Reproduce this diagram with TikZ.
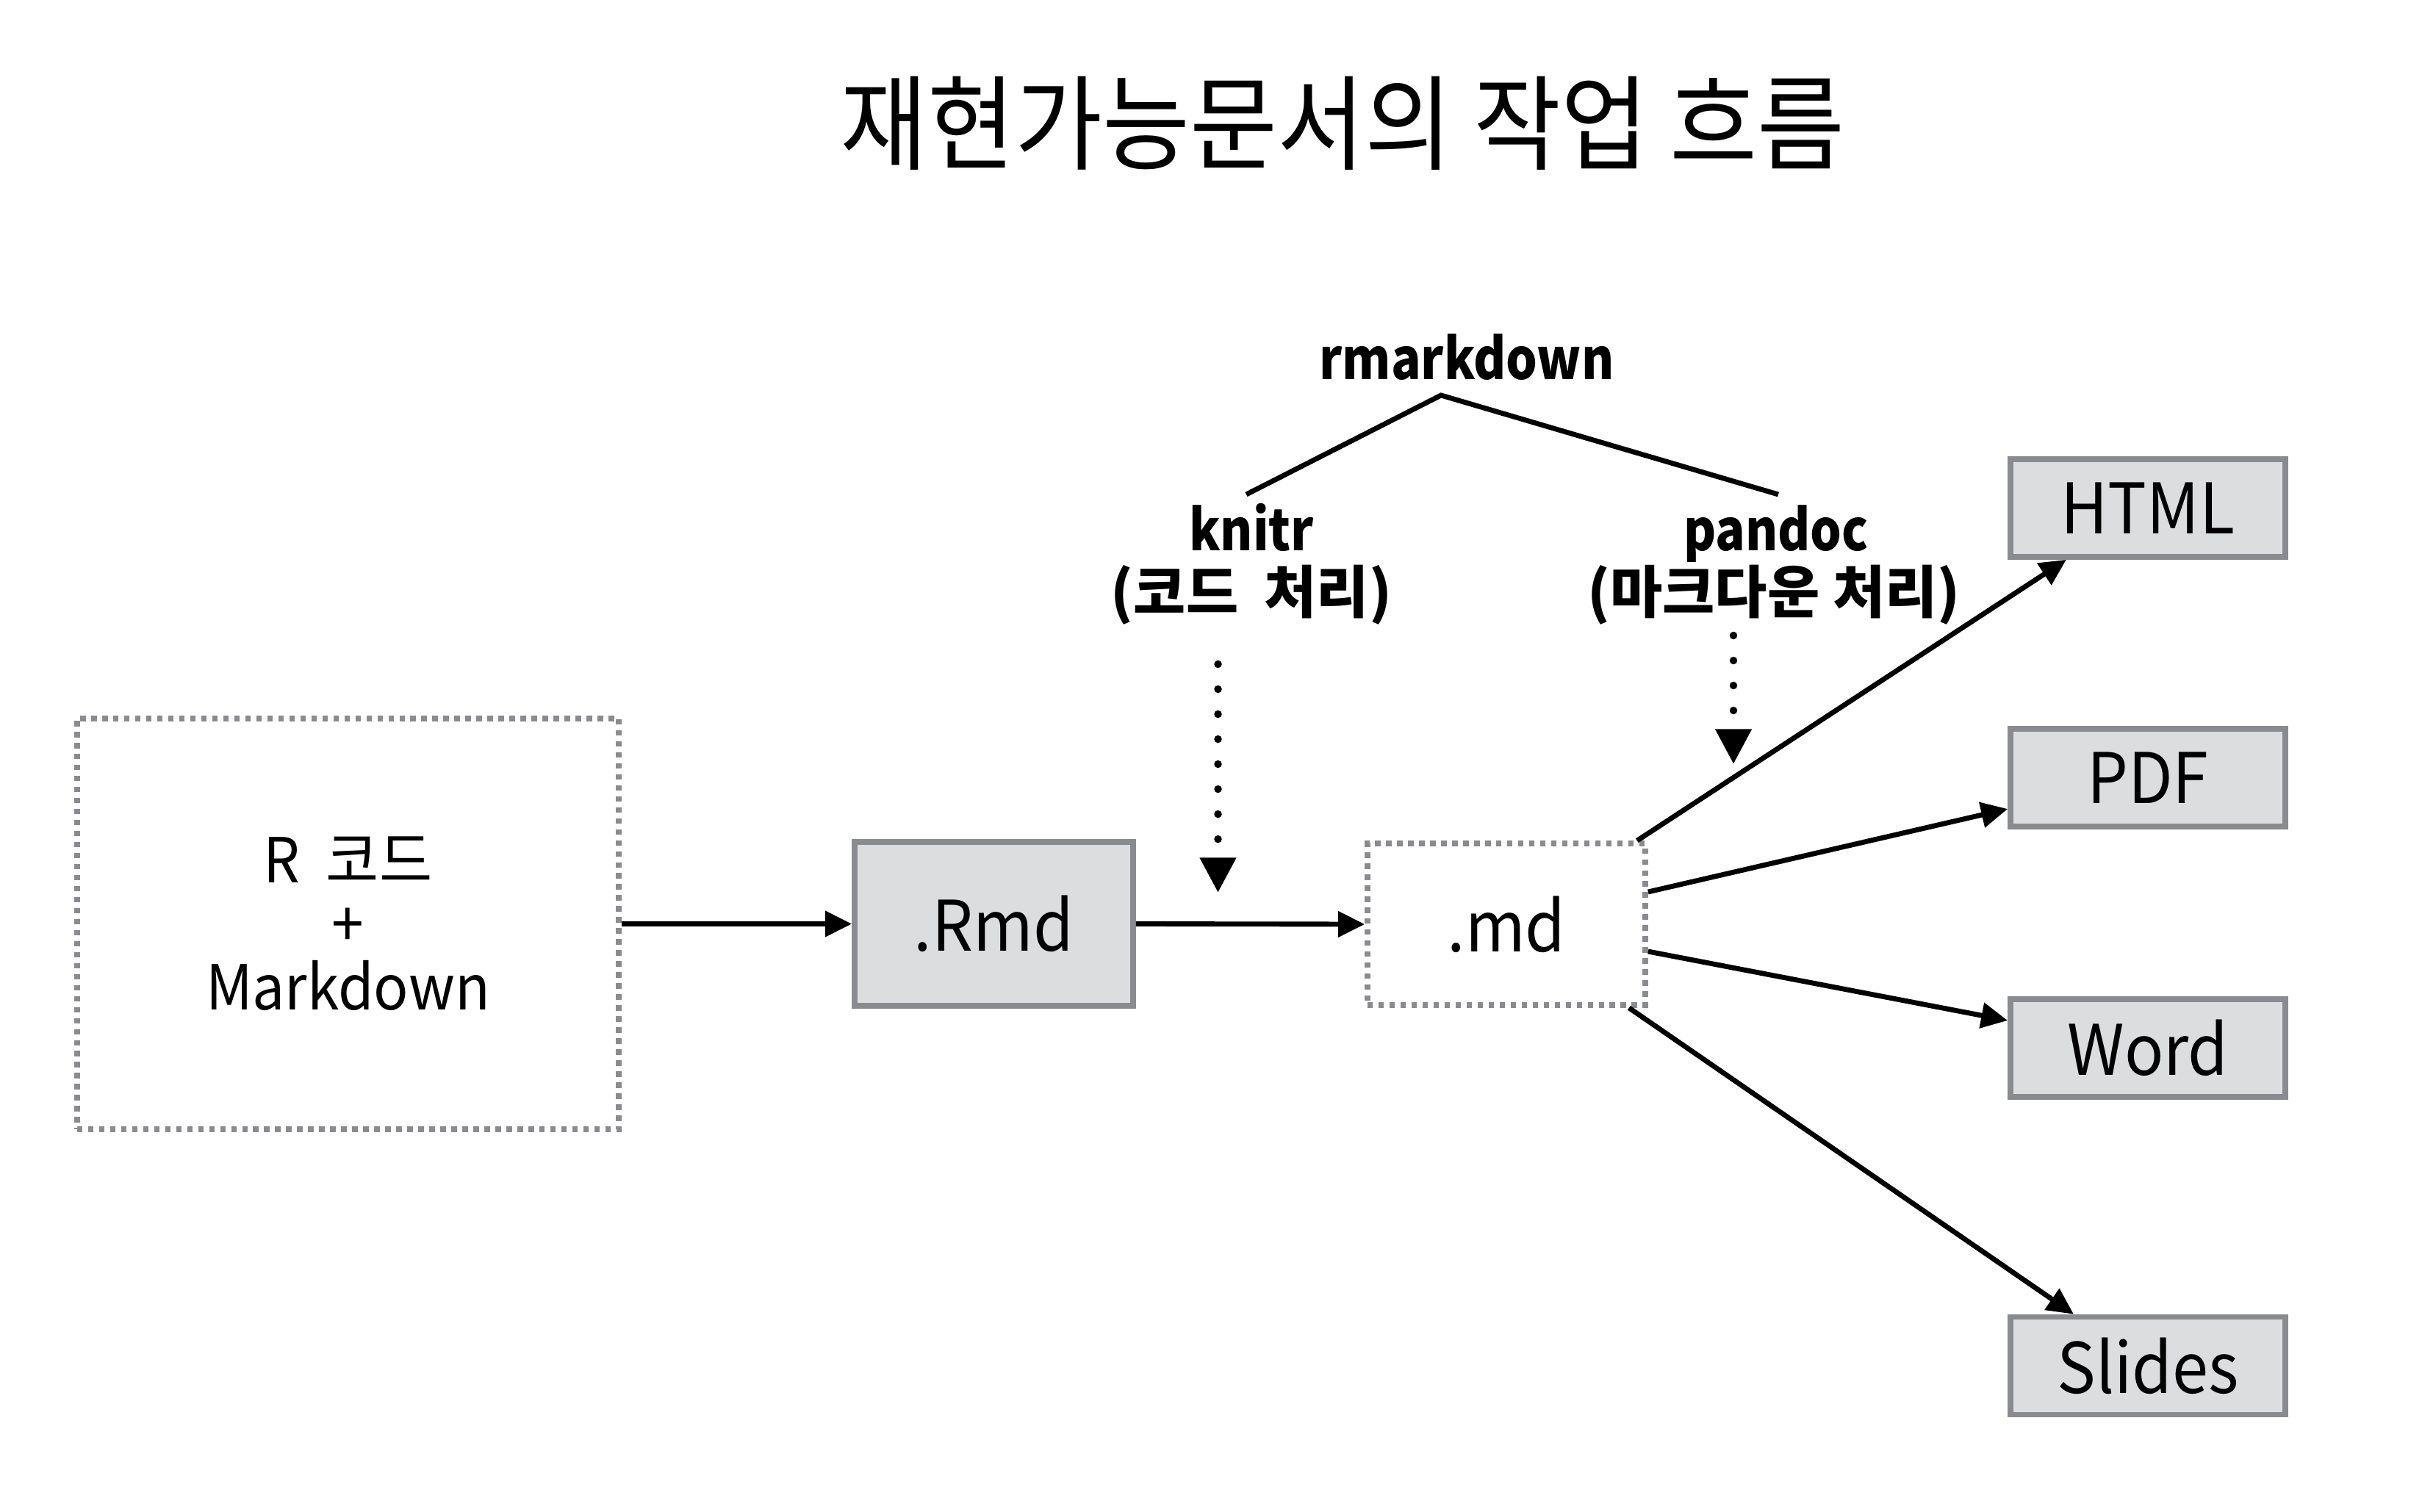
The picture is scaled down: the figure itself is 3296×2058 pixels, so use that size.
\documentclass[tikz,border=0pt]{standalone}
\usepackage{fontspec}
\setmainfont{Noto Sans CJK KR}
\newfontfamily\nodefont[FakeStretch=0.93]{Noto Sans CJK KR}
\newfontfamily\titlefont[FakeStretch=0.92]{Noto Sans CJK KR}
\newfontfamily\labelfont[FakeStretch=0.87]{Noto Sans CJK KR}
\usetikzlibrary{arrows.meta}
\definecolor{boxborder}{HTML}{8A8B8F}
\definecolor{boxfill}{HTML}{DCDDDF}
\tikzset{
  filebox/.style={draw=boxborder, fill=boxfill, line width=2.13pt, inner sep=0pt, font=\nodefont\fontsize{27}{30}\selectfont},
  dotbox/.style={draw=boxborder, line width=2.13pt, dash pattern=on 2.13pt off 2.13pt, inner sep=0pt},
  conn/.style={line width=1.95pt, -{Triangle[length=0.36cm,width=0.34cm]}},
  plainline/.style={line width=1.95pt},
  dotarrow/.style={line width=0.105cm, line cap=round, dash pattern=on 0pt off 0.34cm, -{Triangle[length=0.475cm,width=0.47cm]}},
  lbl/.style={font=\labelfont\fontsize{22}{26}\selectfont\bfseries, inner sep=0pt, anchor=base},
  sublbl/.style={font=\fontsize{22}{26}\selectfont\bfseries, inner sep=0pt, anchor=base},
}
\begin{document}
\begin{tikzpicture}[x=0.01cm,y=-0.01cm]
\useasboundingbox (0,0) rectangle (3296,2058);
% title
\node[font=\titlefont\fontsize{40}{44}\selectfont, inner sep=0pt] (title) at (1827,168) {재현가능문서의 작업 흐름};
% main boxes
\node[dotbox, minimum width=7.37cm, minimum height=5.59cm, align=center, font=\nodefont\fontsize{24}{24.6}\selectfont] (src) at (473.5,1257.5) {R\ \ 코드\\+\\Markdown};
\node[filebox, minimum width=3.79cm, minimum height=2.23cm] (rmd) at (1352.5,1257.5) {.Rmd};
\node[dotbox, minimum width=3.78cm, minimum height=2.20cm, font=\nodefont\fontsize{27}{30}\selectfont] (md) at (2050,1258) {.md};
% outputs
\node[filebox, minimum width=3.74cm, minimum height=1.33cm] (html) at (2923,691.5) {HTML};
\node[filebox, minimum width=3.74cm, minimum height=1.33cm] (pdf) at (2923,1058.5) {PDF};
\node[filebox, minimum width=3.74cm, minimum height=1.33cm] (word) at (2923,1426.5) {Word};
\node[filebox, minimum width=3.74cm, minimum height=1.33cm] (slides) at (2923,1859) {Slides};
% labels
\node[lbl] (rmarkdown) at (1996,517) {rmarkdown};
\node[lbl] (knitr) at (1703,749) {knitr};
\node[sublbl] (knitrsub) at (1703,834) {(코드\ \ 처리)};
\node[lbl] (pandoc) at (2417,749) {pandoc};
\node[sublbl] (pandocsub) at (2414,834) {(마크다운 처리)};
% bracket lines
\coordinate (apex) at (1961,538);
\coordinate (kend) at (1696,673);
\coordinate (pend) at (2420,673);
\draw[plainline] (kend) -- (apex) -- (pend);
% dotted arrows
\coordinate (kd) at (1657.5,904);
\coordinate (kt) at (1657.5,1215);
\coordinate (pd) at (2359,865);
\coordinate (pt) at (2359,1040);
\draw[dotarrow] (kd) -- (kt);
\draw[dotarrow] (pd) -- (pt);
% flow arrows
\draw[conn] (src.east) -- (rmd.west);
\draw[conn] (rmd.east) -- (md.west);
\draw[conn] ([xshift=-0.15cm]md.north east) -- ([xshift=-1.11cm]html.south);
\draw[conn] ([yshift=0.44cm]md.east) -- ([yshift=-0.425cm]pdf.west);
\draw[conn] ([yshift=-0.37cm]md.east) -- ([yshift=0.375cm]word.west);
\draw[conn] ([xshift=-0.26cm]md.south east) -- ([xshift=-1.01cm]slides.north);
\end{tikzpicture}
\end{document}
